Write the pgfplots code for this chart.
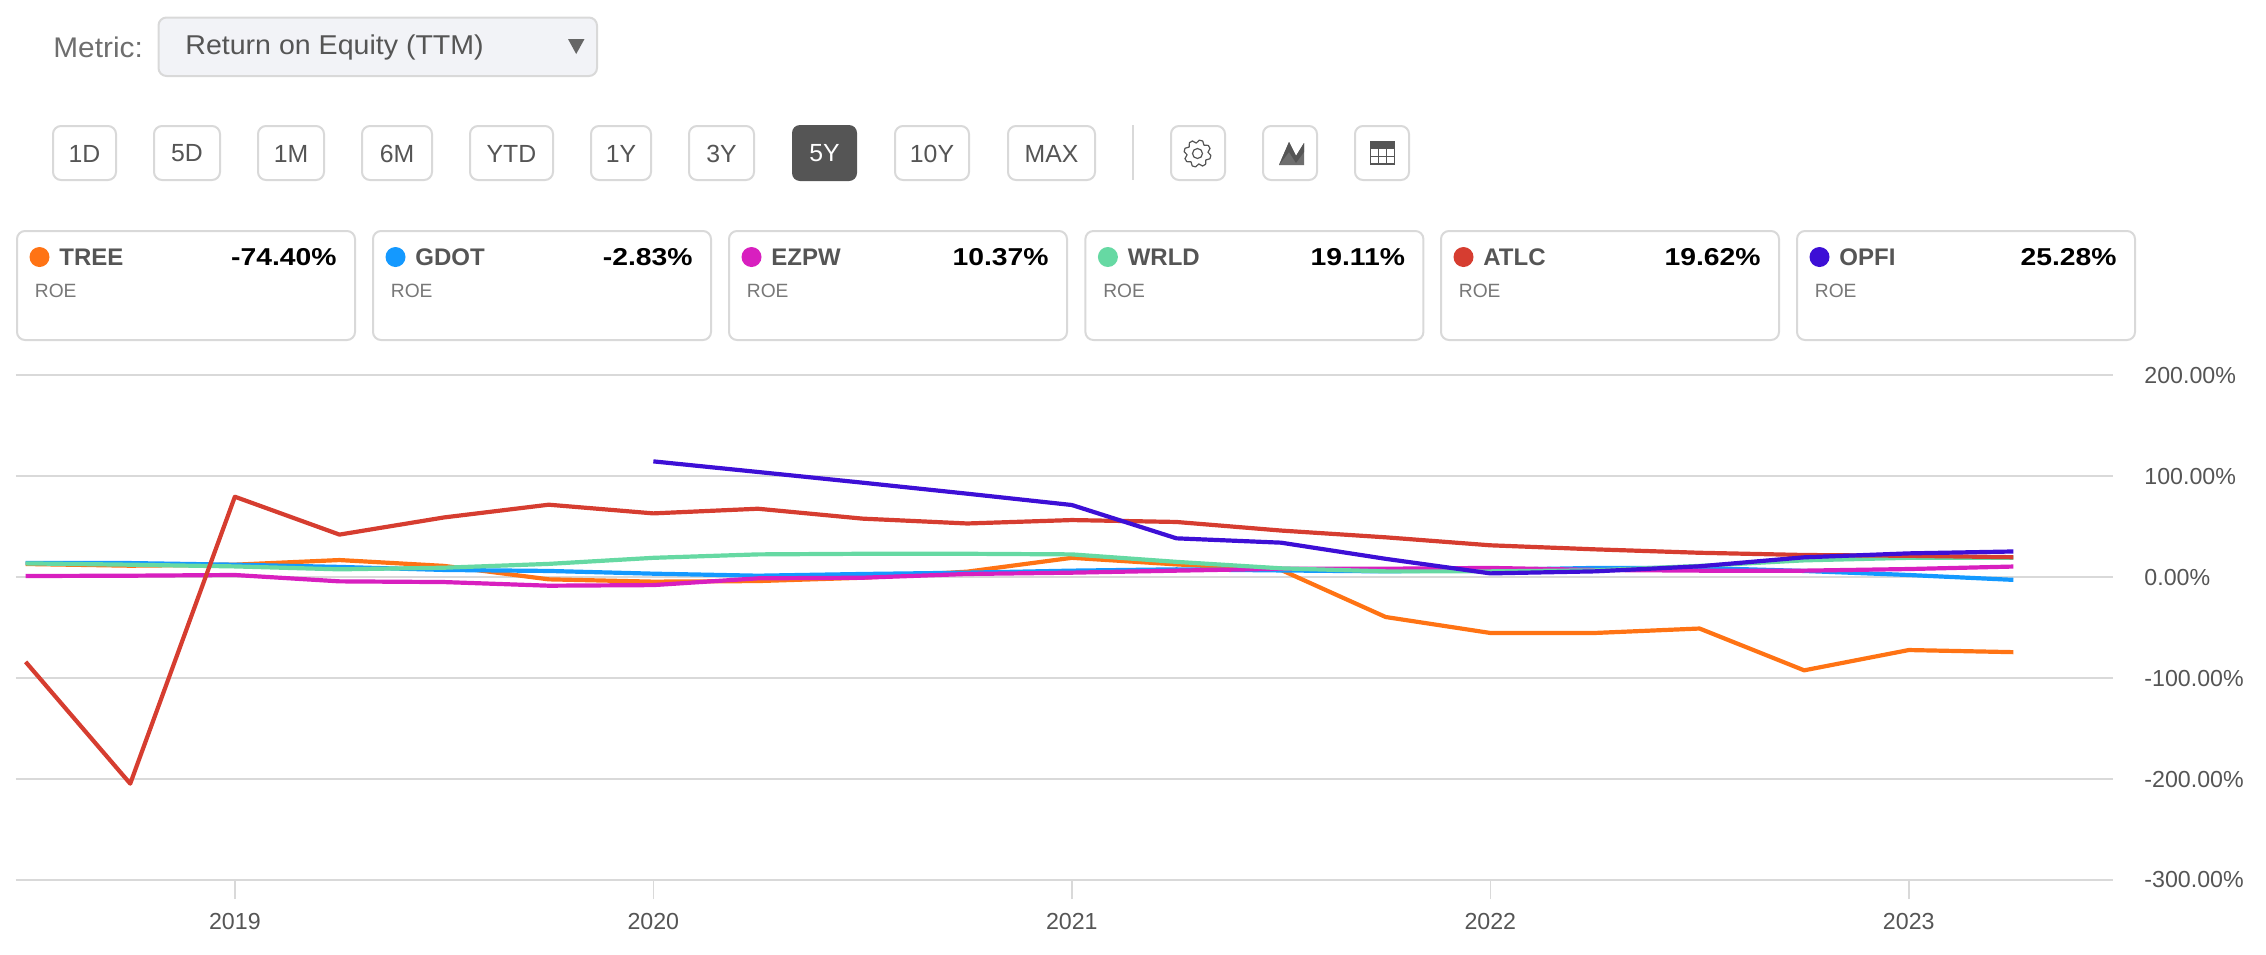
\documentclass[border=0pt]{standalone}
\usepackage{fontspec}
\setmainfont{Liberation Sans}
\newfontfamily\widefont[FakeStretch=1.16]{Liberation Sans}
\newfontfamily\selfont[FakeStretch=1.05]{Liberation Sans}
\usepackage{pgfplots}
\usepackage{pgfplotstable}
\pgfplotsset{compat=1.18}

\definecolor{tree}{HTML}{FF7314}
\definecolor{gdot}{HTML}{1499FF}
\definecolor{ezpw}{HTML}{D81FBF}
\definecolor{wrld}{HTML}{66D9A3}
\definecolor{atlc}{HTML}{D63D30}
\definecolor{opfi}{HTML}{3D0FD6}
\definecolor{gridc}{HTML}{D9D9D9}
\definecolor{txt}{HTML}{555555}
\definecolor{selbg}{HTML}{F2F3F7}

\newcommand{\fs}[1]{\fontsize{#1}{#1}\selectfont}

% quarterly ROE
\pgfplotstableread{
x       tree   gdot   ezpw   wrld   atlc    opfi
2018.50 12.9   14.0   1.0    13.5   -84.0   nan
2018.75 11.2   13.8   1.3    12.2   -204.6  nan
2019.00 12.2   12.2   2.0    10.5   79.5    nan
2019.25 16.8   10.0   -4.3   7.6    42.0    nan
2019.50 11.0   7.0    -5.0   9.2    59.0    nan
2019.75 -2.3   6.0    -8.6   13.0   71.6    nan
2020.00 -4.6   3.3    -8.0   19.0   63.0    114.5
2020.25 -4.0   1.3    -1.3   22.4   67.6    104.0
2020.50 -0.7   3.0    -0.7   23.0   57.8    93.4
2020.75 5.3    4.3    3.0    23.0   53.0    82.5
2021.00 19.0   6.3    4.3    22.4   56.4    71.3
2021.25 12.5   7.6    6.3    15.0   54.5    38.3
2021.50 7.0    6.5    8.2    8.6    46.0    34.0
2021.75 -39.6  5.6    8.2    5.6    39.3    18.0
2022.00 -55.4  7.0    9.0    5.6    31.4    3.6
2022.25 -55.4  9.0    7.0    6.6    27.4    5.6
2022.50 -51.0  9.0    6.3    11.0   24.0    10.6
2022.75 -92.4  6.0    6.3    16.5   21.8    19.5
2023.00 -72.3  2.0    7.9    19.0   21.0    23.4
2023.25 -74.40 -2.83  10.37  19.11  19.62   25.28
}\roedata

\begin{document}
\begin{tikzpicture}[x=0.5pt,y=-0.5pt,
    box/.style={draw=gridc,line width=1pt,rounded corners=4pt,fill=white},
    btn/.style={font=\fs{12.4pt},text=txt,inner sep=0pt}]
\path (0,0) rectangle (2266,954);
\coordinate (axpos) at (16,880);

% metric selector
\node[anchor=west,inner sep=0pt,font=\selfont\fs{14.2pt},text=txt!85] at (53,47) {Metric:};
\draw[box,fill=selbg] (158.5,17.5) rectangle (597,76);
\node[anchor=west,inner sep=0pt,font=\selfont\fs{13.6pt},text=txt] at (185,47.5) {Return on Equity (TTM)};
\fill[txt!90] (568,39) -- (584.5,39) -- (576.2,54) -- cycle;

% range buttons
\foreach \a/\b/\t in {53/116/1D,154/220/5D,258/324/1M,362/432/6M,470/553/YTD,591/651/1Y,689/754/3Y,895/969/10Y,1008/1095/MAX}{
  \draw[box] (\a,126) rectangle (\b,180);
  \node[btn] at ({(\a+\b)/2},153.5) {\t};
}
\fill[txt,rounded corners=4pt] (792,125) rectangle (857,181);
\node[btn,text=white] at (824.5,153.5) {5Y};
\draw[gridc,line width=1pt] (1133,125) -- (1133,180);

% tool buttons
\foreach \a in {1171,1263,1355}{\draw[box] (\a,126) rectangle (\a+54,180);}
% gear
\draw[txt,line width=0.6pt,line join=round]
  plot[samples at={0,15,...,345}] ({1197.5+(mod(\x,45)<20?13.5:10.5)*cos(\x+8)},{153.5+(mod(\x,45)<20?13.5:10.5)*sin(\x+8)}) -- cycle;
\draw[txt,line width=0.6pt] (1197.5,153.5) circle (5);
% chart icon
\fill[txt!85] (1279,165) -- (1289,142) -- (1296,156) -- (1304,143) -- (1304,165) -- cycle;
\fill[txt] (1279,165) -- (1289,142) -- (1296,156) -- (1304,143) -- (1304,152) -- (1296,163) -- (1289,152) -- cycle;
% table icon
\fill[txt] (1370,142) rectangle (1395,149);
\draw[txt,line width=0.6pt] (1370.5,142) rectangle (1394.5,164);
\foreach \v in {1378.5,1386.5}{\draw[txt,line width=0.5pt] (\v,149) -- (\v,164);}
\foreach \h in {156.5}{\draw[txt,line width=0.5pt] (1370,\h) -- (1395,\h);}

% ticker cards
\foreach \xo/\c/\t/\v in {17/tree/TREE/-74.40\%,373/gdot/GDOT/-2.83\%,729/ezpw/EZPW/10.37\%,1085.4/wrld/WRLD/19.11\%,1441/atlc/ATLC/19.62\%,1797/opfi/OPFI/25.28\%}{
  \draw[box] (\xo,231) rectangle (\xo+338,340);
  \fill[\c] (\xo+22.5,257) circle (10);
  \node[anchor=west,inner sep=0pt,font=\fs{12pt}\bfseries,text=txt] at (\xo+42,257) {\t};
  \node[anchor=east,inner sep=0pt,font=\widefont\fs{12.2pt}\bfseries,text=black] at (\xo+320,257) {\v};
  \node[anchor=west,inner sep=0pt,font=\fs{9.6pt},text=txt!80] at (\xo+17.5,291) {ROE};
}

\begin{axis}[
    at={(axpos)},
    anchor=south west,
    scale only axis,
    width=1048.7pt,
    height=252.5pt,
    xmin=2018.477, xmax=2023.489,
    ymin=-300, ymax=200,
    axis line style={draw=none},
    xtick={2019,2020,2021,2022,2023},
    xticklabels={2019,2020,2021,2022,2023},
    ytick={-300,-200,-100,0,100,200},
    yticklabels={-300.00\%,-200.00\%,-100.00\%,0.00\%,100.00\%,200.00\%},
    xtick pos=lower,
    ytick pos=right,
    tick align=outside,
    major tick length=9.5pt,
    xtick style={gridc,line width=0.7pt},
    ytick style={draw=none},
    ymajorgrids=true,
    grid style={gridc,line width=1pt},
    tick label style={font=\fs{11.6pt},text=txt,inner sep=0pt},
    x tick label style={yshift=-7pt},
    y tick label style={anchor=west,xshift=15.3pt-9.5pt},
    clip=false,
    unbounded coords=jump,
    every axis plot/.append style={line width=2.1pt,no markers,line join=round},
]
\addplot[tree] table[x=x,y=tree] {\roedata};
\addplot[gdot] table[x=x,y=gdot] {\roedata};
\addplot[ezpw] table[x=x,y=ezpw] {\roedata};
\addplot[wrld] table[x=x,y=wrld] {\roedata};
\addplot[atlc] table[x=x,y=atlc] {\roedata};
\addplot[opfi] table[x=x,y=opfi] {\roedata};
\end{axis}
\end{tikzpicture}
\end{document}
